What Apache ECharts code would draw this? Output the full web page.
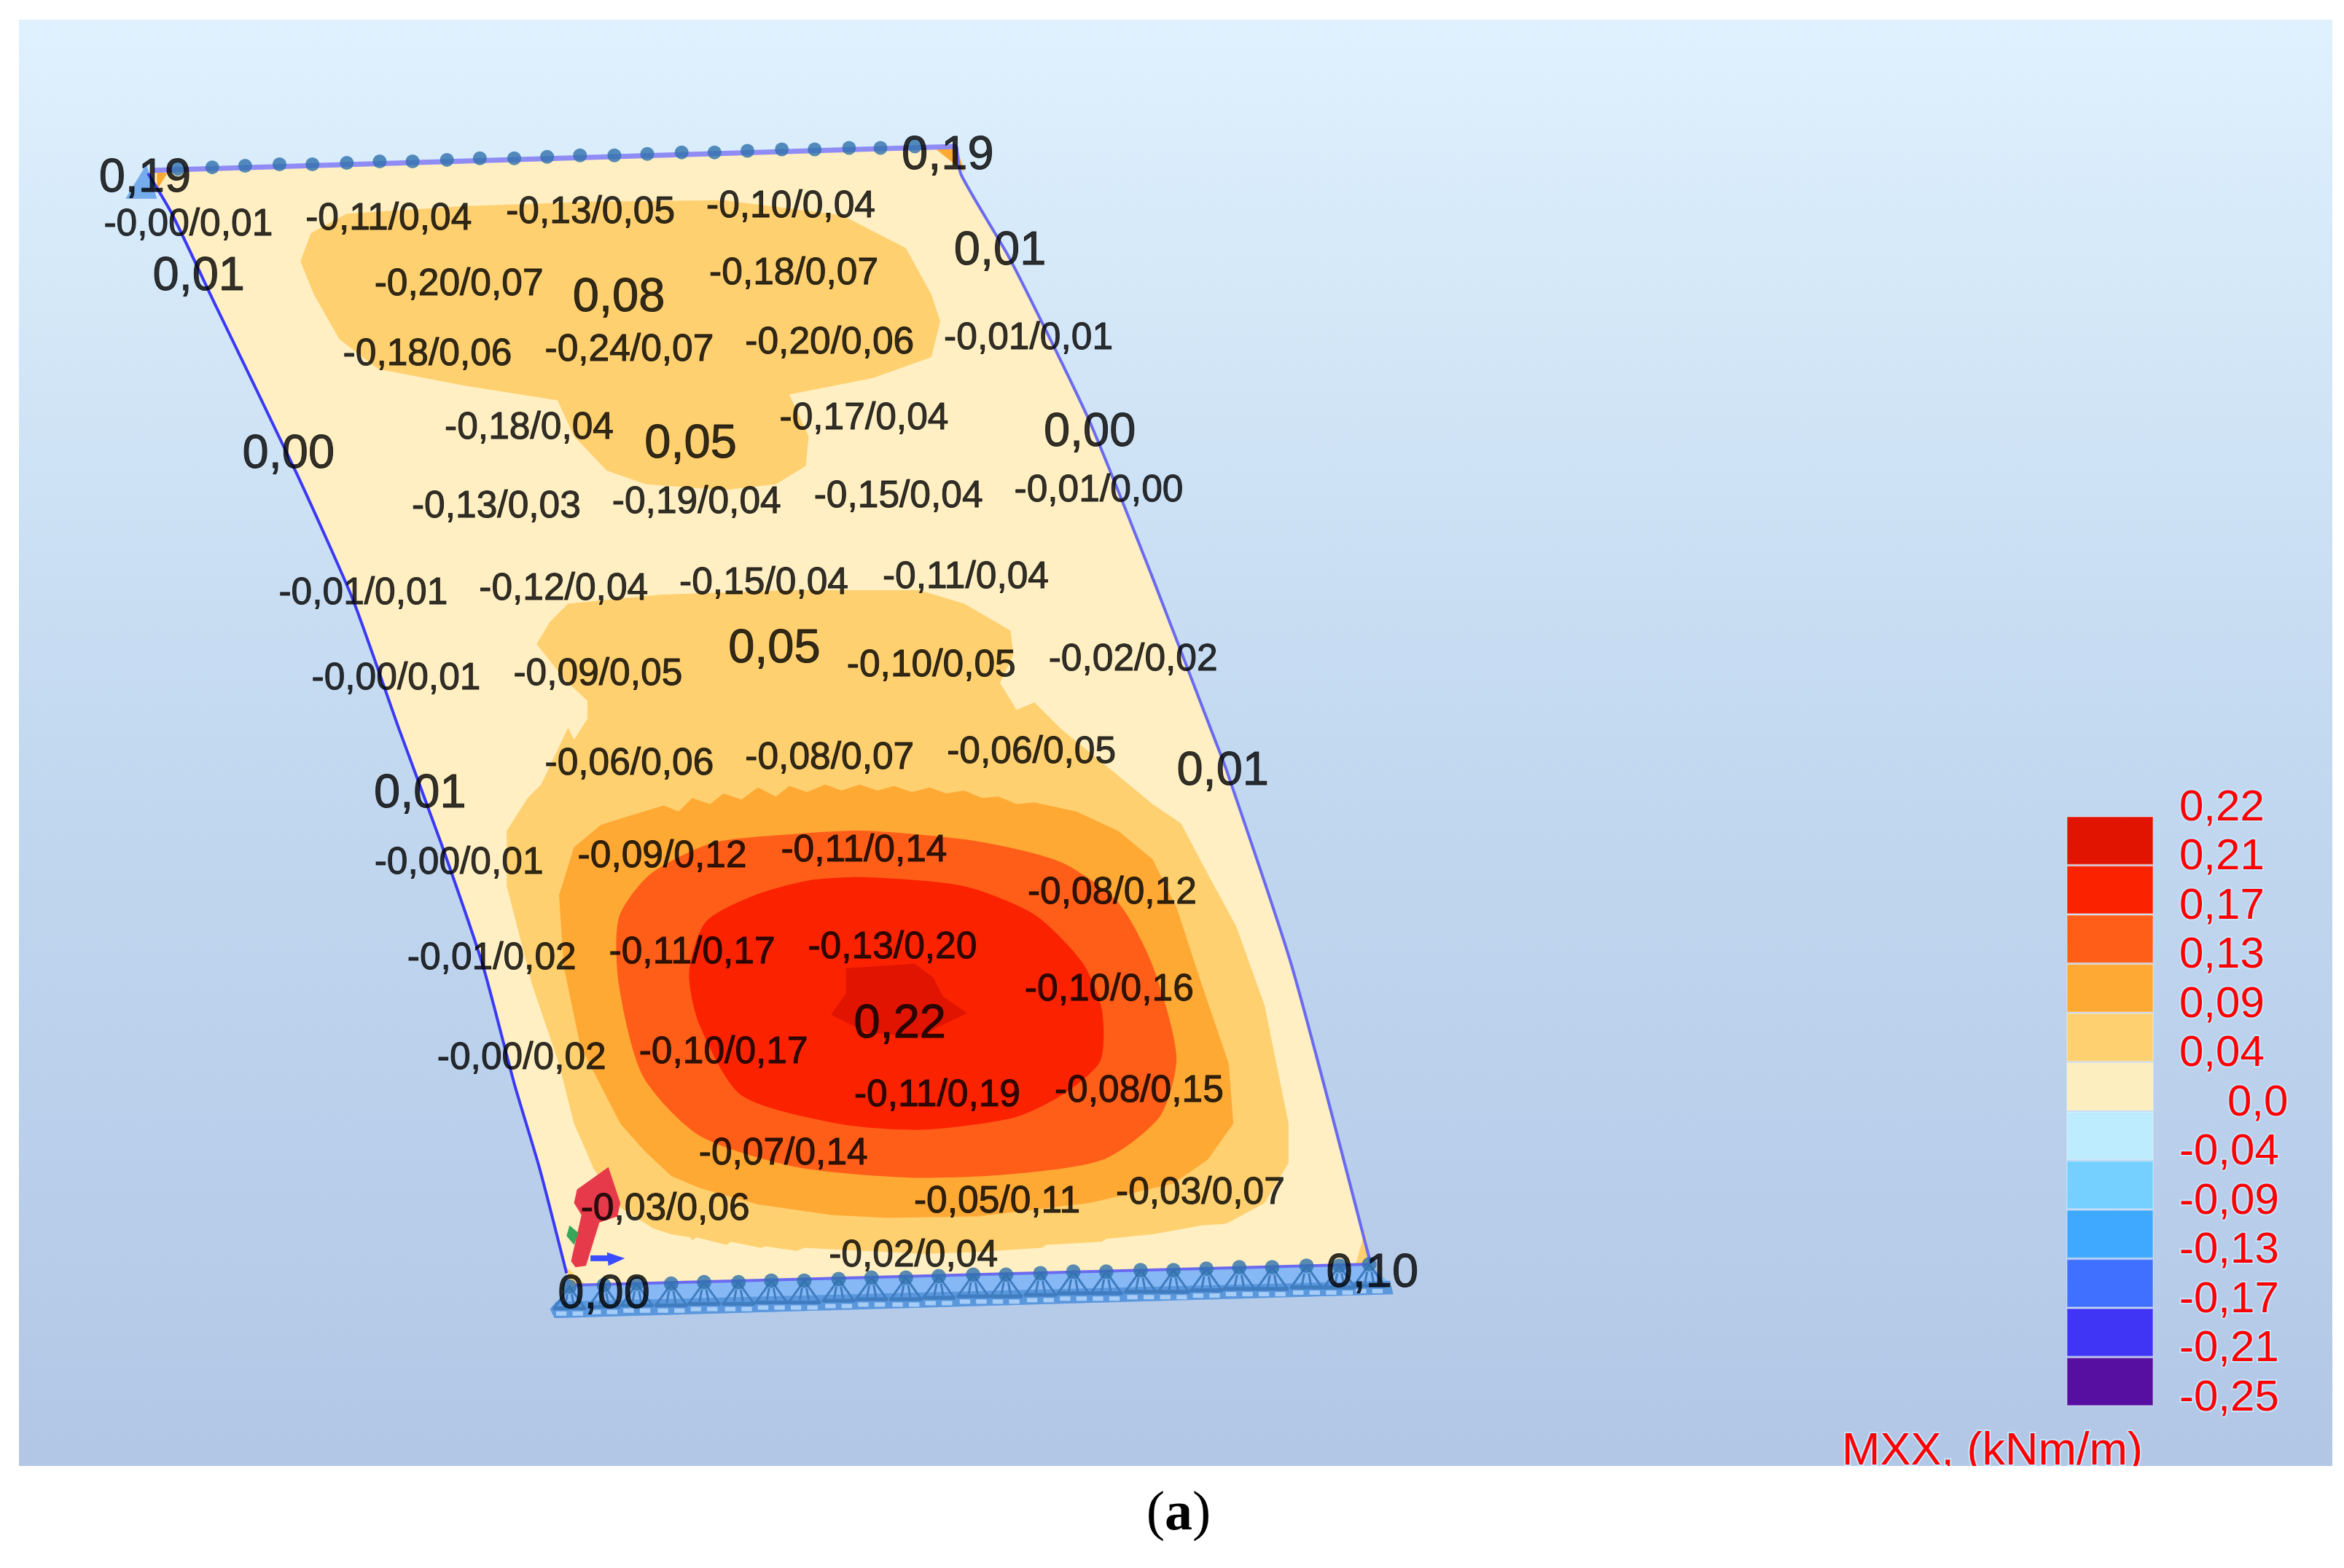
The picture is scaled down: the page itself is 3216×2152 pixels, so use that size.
<!DOCTYPE html>
<html>
<head>
<meta charset="utf-8">
<title>MXX</title>
<style>html,body{margin:0;padding:0;background:#fff}#main{width:3216px;height:2152px}</style>
<script src="https://cdn.jsdelivr.net/npm/echarts@6/dist/echarts.min.js"></script>
</head>
<body>
<div id="main"></div>
<script>
// plate and contour outlines
var plate = [[99,115],[640,98],[643,117],[676,174],[728,280],[770,384],[810,488],[820,514],[864,646],[916,846],[383,860],[379,852],[361,782],[344,725],[323,646],[295,564],[267,488],[236,401],[199,318],[145,206],[115,143]];
var band04a = [[201,175],[208,156],[232,143],[310,138],[397,135],[484,134],[563,144],[606,166],[623,197],[629,215],[623,239],[584,253],[528,264],[541,292],[539,312],[519,324],[484,328],[432,324],[406,315],[384,292],[373,268],[310,258],[253,247],[227,227],[210,197]];
var band04b = [[380,404],[441,398],[528,395],[615,395],[645,404],[676,422],[678,438],[669,457],[680,475],[692,470],[710,488],[748,519],[771,538],[790,551],[808,585],[827,620],[846,673],[862,752],[862,778],[846,805],[822,818],[819,819],[804,820],[771,826],[740,829],[737,831],[700,833],[697,835],[650,838],[617,839],[556,836],[538,835],[533,837],[512,834],[509,835],[489,831],[486,833],[466,828],[463,830],[462,828],[449,826],[437,822],[415,808],[397,782],[392,770],[384,752],[374,712],[356,659],[339,593],[339,556],[353,534],[362,525],[380,487],[384,495],[393,481],[393,469],[378,455],[359,431],[368,416]];
var band09 = [[402,552],[421,546],[444,539],[454,543],[463,534],[475,538],[484,531],[496,535],[507,527],[519,533],[528,526],[540,530],[552,525],[563,529],[575,525],[587,529],[598,526],[610,530],[622,527],[633,531],[645,529],[657,534],[668,533],[680,538],[692,537],[720,543],[748,556],[771,575],[787,607],[804,659],[822,712],[825,752],[808,776],[785,792],[729,805],[654,814],[594,815],[556,813],[507,806],[468,795],[449,787],[431,770],[415,752],[396,715],[388,699],[377,646],[374,599],[384,567]];
var band13 = [[580,556],[654,563],[710,577],[748,604],[771,646],[787,707],[776,747],[738,776],[673,786],[608,788],[533,781],[468,760],[430,720],[414,659],[414,614],[435,585],[477,564],[533,558]];
var band17 = [[580,587],[645,593],[692,612],[724,644],[737,675],[736,710],[710,733],[678,748],[617,756],[561,752],[496,733],[468,686],[461,651],[472,617],[505,599],[542,589]];
var band21 = [[566,648],[612,645],[624,654],[631,667],[647,678],[626,688],[617,694],[580,691],[556,679],[566,665]];
var cornerA = [[105,115],[112,116],[105,127]];
var cornerB = [[625,99],[640,98],[645,115]];
var cornerC = [[913,824],[917,846],[907,846]];
var cornerD = [[379,848],[392,860],[382,860]];

var edgeLeft = [[99,116],[115,143],[145,206],[199,318],[236,401],[267,488],[295,564],[323,646],[344,725],[361,782],[379,852]];
var edgeRight = [[640,98],[643,117],[676,174],[728,280],[770,384],[810,488],[820,514],[864,646],[917,846]];
var edgeTop = [[103,114],[640,98]];
var edgeBottom = [[385,860],[917,846]];

var supportTri = [[98,110],[84,133],[105,133]];
var supportBand = [[385,860],[916,846],[930,859],[932,866],[371,882],[368,876],[372,871]];
var supportBase = [[372,871],[930,857],[932,866],[371,882],[368,876]];
var arrowZ = [[407,781],[415,805],[413,814],[401,818],[392,847],[385,848],[382,844],[389,813],[384,805],[386,796]];
var arrowX = [[395,842],[407,842]];
var arrowXHead = [[406,838],[418,842],[407,847]];
var arrowY = [[381,820],[387,825],[384,833],[379,827]];

var topNodes = [[119,113],[142,112],[164,111],[187,110],[209,110],[232,109],[254,108],[276,108],[299,107],[321,106],[344,106],[366,105],[388,104],[411,104],[433,103],[456,102],[478,102],[500,101],[523,100],[545,100],[568,99],[589,99],[612,98]];
var bottomNodes = [[381,861],[404,860],[426,859],[449,859],[471,858],[494,858],[516,857],[538,857],[561,856],[583,855],[606,855],[628,854],[651,853],[673,853],[696,852],[718,851],[740,851],[763,850],[785,850],[807,849],[829,848],[851,848],[874,847],[896,847],[916,846]];

var bigLabels = [[97,118,'0,19'],[634,103,'0,19'],[133,184,'0,01'],[669,167,'0,01'],[414,198,'0,08'],[462,296,'0,05'],[193,303,'0,00'],[729,288,'0,00'],[518,433,'0,05'],[281,530,'0,01'],[818,515,'0,01'],[602,684,'0,22'],[404,865,'0,00'],[918,851,'0,10']];
var smallLabels = [
  [126,149,'-0,00/0,01'],[260,145,'-0,11/0,04'],[395,141,'-0,13/0,05'],[529,137,'-0,10/0,04'],
  [307,189,'-0,20/0,07'],[531,182,'-0,18/0,07'],[286,236,'-0,18/0,06'],[421,233,'-0,24/0,07'],
  [555,228,'-0,20/0,06'],[688,225,'-0,01/0,01'],[354,285,'-0,18/0,04'],[578,279,'-0,17/0,04'],
  [332,338,'-0,13/0,03'],[466,335,'-0,19/0,04'],[601,331,'-0,15/0,04'],[735,327,'-0,01/0,00'],
  [243,396,'-0,01/0,01'],[377,393,'-0,12/0,04'],[511,389,'-0,15/0,04'],[646,385,'-0,11/0,04'],
  [265,453,'-0,00/0,01'],[400,450,'-0,09/0,05'],[623,444,'-0,10/0,05'],[758,440,'-0,02/0,02'],
  [421,510,'-0,06/0,06'],[555,506,'-0,08/0,07'],[690,502,'-0,06/0,05'],[307,576,'-0,00/0,01'],
  [443,572,'-0,09/0,12'],[578,568,'-0,11/0,14'],[744,596,'-0,08/0,12'],[329,640,'-0,01/0,02'],
  [463,636,'-0,11/0,17'],[597,633,'-0,13/0,20'],[742,661,'-0,10/0,16'],[349,707,'-0,00/0,02'],
  [484,703,'-0,10/0,17'],[627,732,'-0,11/0,19'],[762,729,'-0,08/0,15'],[524,771,'-0,07/0,14'],
  [445,808,'-0,03/0,06'],[667,803,'-0,05/0,11'],[803,797,'-0,03/0,07'],[611,839,'-0,02/0,04']
];

// legend, bottom to top
var legendColors = ['#560fa0','#4035f5','#4070ff','#3fa9ff','#75d0ff','#bdecff','#fdeec0','#ffd070','#ffa935','#ff5e18','#fb2200','#e01400'];
var legendTicks = ['-0,25','-0,21','-0,17','-0,13','-0,09','-0,04','0,0','0,04','0,09','0,13','0,17','0,21','0,22'];
var legendBand = [1];

var font = '"Liberation Sans", Arial, sans-serif';

function poly(name, pts, color, z, smooth) {
  return {
    name: name,
    type: 'custom',
    coordinateSystem: 'cartesian2d',
    xAxisIndex: 0,
    yAxisIndex: 0,
    z: z,
    silent: true,
    clip: false,
    data: [[pts[0][0], pts[0][1]]],
    renderItem: function (params, api) {
      return {
        type: 'polygon',
        shape: { points: pts.map(function (p) { return api.coord(p); }), smooth: smooth || 0 },
        style: { fill: color }
      };
    }
  };
}

function edge(name, pts, color, width, z) {
  return {
    name: name, type: 'line', data: pts, xAxisIndex: 0, yAxisIndex: 0, z: z,
    symbol: 'none', silent: true, clip: false, smooth: 0.2,
    lineStyle: { color: color, width: width }
  };
}

function textLayer(name, rows, size, z) {
  return {
    name: name, type: 'scatter', data: rows, xAxisIndex: 0, yAxisIndex: 0, z: z,
    symbolSize: 0, silent: true, clip: false,
    label: {
      show: true, position: 'inside', align: 'center', verticalAlign: 'middle', offset: [0, 3],
      fontFamily: font, fontSize: size, color: '#000', textBorderColor: '#000', textBorderWidth: 1,
      formatter: function (p) { return p.data[2]; }
    }
  };
}

var trusses = {
  name: 'trusses', type: 'custom', coordinateSystem: 'cartesian2d', xAxisIndex: 0, yAxisIndex: 0,
  z: 5, silent: true, clip: false, data: bottomNodes,
  renderItem: function (params, api) {
    var x = api.value(0), y = api.value(1);
    var dark = { stroke: '#3f7cc0', lineWidth: 3, fill: null };
    var pale = { stroke: '#a5cdf7', lineWidth: 6, fill: null };
    function seg(x1, y1, x2, y2, style) {
      return { type: 'polyline', shape: { points: [api.coord([x + x1, y + y1]), api.coord([x + x2, y + y2])] }, style: style };
    }
    return {
      type: 'group',
      children: [
        { type: 'polygon', shape: { points: [api.coord([x, y]), api.coord([x - 10, y + 14]), api.coord([x + 10, y + 14])] }, style: dark },
        seg(-1.5, 5, -3, 13, dark),
        seg(1.5, 5, 3, 13, dark),
        seg(-11, 14.5, 11, 14.5, { stroke: '#3f7cc0', lineWidth: 5, fill: null }),
        seg(-9, 18, -2, 18, pale),
        seg(2, 18, 9, 18, pale)
      ]
    };
  }
};

var series = [
  poly('plate', plate, '#ffefc2', 2),
  poly('band04a', band04a, '#ffd070', 3),
  poly('band04b', band04b, '#ffd070', 3),
  poly('band09', band09, '#ffa935', 3),
  poly('band13', band13, '#ff5e18', 3, 0.25),
  poly('band17', band17, '#fb2200', 3, 0.25),
  poly('band21', band21, '#e01400', 3),
  poly('cornerA', cornerA, '#ffa935', 3),
  poly('cornerB', cornerB, '#ffa935', 3),
  poly('cornerC', cornerC, '#ffd070', 3),
  poly('cornerD', cornerD, '#ffd070', 3),
  edge('edgeLeft', edgeLeft, '#3a3af5', 4, 4),
  edge('edgeRight', edgeRight, '#6a6af0', 4, 4),
  edge('edgeTop', edgeTop, '#8f8cf5', 7, 4),
  poly('supportBand', supportBand, '#85b8f4', 4),
  poly('supportBase', supportBase, '#5b97dc', 4),
  edge('edgeBottom', edgeBottom, '#6a6af0', 4, 5),
  poly('supportTri', supportTri, '#74acec', 4),
  trusses,
  { name: 'topNodes', type: 'scatter', data: topNodes, xAxisIndex: 0, yAxisIndex: 0, z: 6, silent: true, clip: false, symbolSize: 19, itemStyle: { color: '#2f70ac' } },
  { name: 'bottomNodes', type: 'scatter', data: bottomNodes, xAxisIndex: 0, yAxisIndex: 0, z: 6, silent: true, clip: false, symbolSize: 20, itemStyle: { color: '#2f70ac' } },
  poly('arrowZ', arrowZ, '#e63a4b', 7),
  edge('arrowXShaft', arrowX, '#3a4cff', 8, 7),
  poly('arrowXHead', arrowXHead, '#3a4cff', 7),
  poly('arrowY', arrowY, '#35a65a', 7),
  textLayer('smallLabels', smallLabels, 51.5, 10),
  textLayer('bigLabels', bigLabels, 65, 10)
];

legendColors.forEach(function (c, i) {
  series.push({
    name: legendTicks[i], type: 'bar', stack: 'legend', xAxisIndex: 1, yAxisIndex: 1,
    data: legendBand, barWidth: '100%', silent: true, z: 3,
    itemStyle: { color: c, borderColor: 'rgba(255,255,255,0.25)', borderWidth: 2 }
  });
});

var halo = '#c4e6ff';
var option = {
  animation: false,
  backgroundColor: '#ffffff',
  title: [
    {
      text: 'MXX, (kNm/m)', left: 2522, top: 1956, z: 4,
      textStyle: { fontFamily: font, fontWeight: 'normal', fontSize: 63, color: '#ff0000', textBorderColor: halo, textBorderWidth: 4 }
    },
    {
      text: '({b|a})', left: 1612, top: 2036, textAlign: 'center', z: 200,
      textStyle: {
        fontFamily: '"Liberation Serif", serif', fontWeight: 'normal', fontSize: 76, color: '#000',
        rich: { b: { fontFamily: '"Liberation Serif", serif', fontWeight: 'bold', fontSize: 76, color: '#000' } }
      }
    }
  ],
  graphic: [
    // the picture is cut off just below the unit text
    { type: 'rect', z: 100, silent: true, shape: { x: 0, y: 2012, width: 3216, height: 140 }, style: { fill: '#ffffff' } }
  ],
  grid: [
    {
      left: 26, top: 27, width: 3174, height: 1985, show: true, borderWidth: 0,
      backgroundColor: { type: 'linear', x: 0, y: 0, x2: 0, y2: 1, colorStops: [{ offset: 0, color: '#dff1fd' }, { offset: 0.5, color: '#c3d9f0' }, { offset: 1, color: '#b2c7e6' }] }
    },
    { left: 2835, top: 1120, width: 120, height: 810 }
  ],
  xAxis: [
    { type: 'value', gridIndex: 0, min: 12.7, max: 1560.2, show: false },
    { type: 'category', gridIndex: 1, data: ['MXX'], show: false }
  ],
  yAxis: [
    { type: 'value', gridIndex: 0, min: 13.2, max: 981, inverse: true, show: false },
    {
      type: 'value', gridIndex: 1, min: 0, max: 12, interval: 1, position: 'right',
      axisLine: { show: false }, axisTick: { show: false }, splitLine: { show: false },
      axisLabel: {
        margin: 35, padding: [0, 0, 22, 0], align: 'left',
        formatter: function (v) {
          var t = legendTicks[v];
          return t === '0,0' ? '{z|' + t + '}' : '{n|' + t + '}';
        },
        rich: {
          n: { fontFamily: font, fontSize: 60, color: '#ff0000', textBorderColor: halo, textBorderWidth: 4 },
          z: { fontFamily: font, fontSize: 60, color: '#ff0000', textBorderColor: halo, textBorderWidth: 4, padding: [0, 0, 0, 66] }
        }
      }
    }
  ],
  series: series
};

var myChart = echarts.init(document.getElementById('main'));
myChart.setOption(option);
window.addEventListener('resize', function () {
  myChart.resize();
});
</script>
</body>
</html>
